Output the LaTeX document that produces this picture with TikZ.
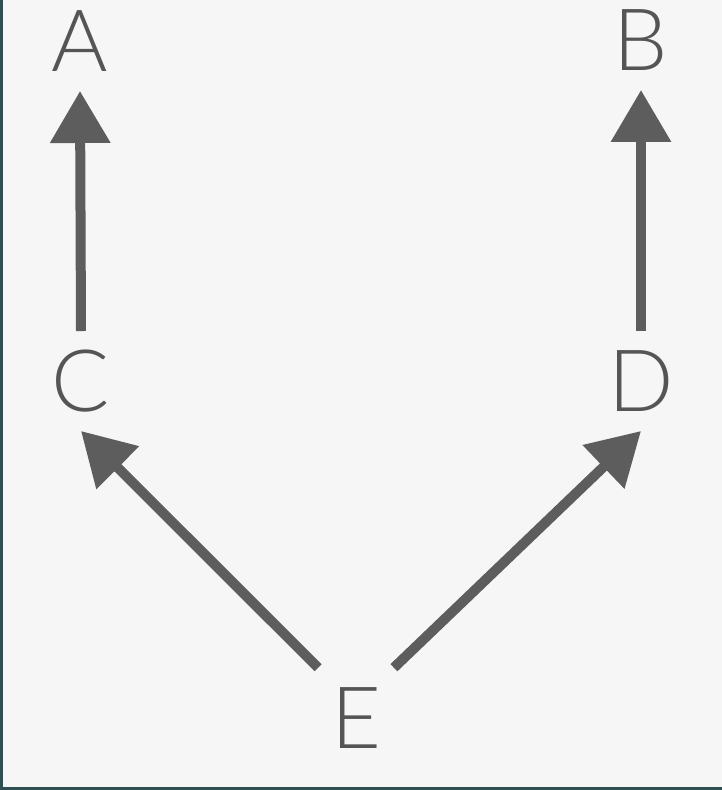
\documentclass[tikz,border=0pt]{standalone}
\usepackage{fontspec}
\setmainfont{Lato Light}
\usetikzlibrary{arrows.meta}
\definecolor{paper}{HTML}{F6F6F6}
\definecolor{ink}{HTML}{555555}
\definecolor{edge}{HTML}{2F4F53}

\begin{document}
\begin{tikzpicture}[x=0.02cm,y=-0.02cm,
  letter/.style={circle,inner sep=0pt,outer sep=0pt,minimum size=2cm,
    text=ink,font=\fontsize{49}{52}\selectfont},
  link/.style={-{Triangle[width=1.16cm,length=1.04cm]},line width=0.2cm,draw=ink!95}]
\useasboundingbox (0,0) rectangle (722,790);
\fill [paper] (0,0) rectangle (722,790);
\fill [edge] (0,0) rectangle (3,790); \fill [edge] (0,787) rectangle (722,790);

\node [letter] (A) at (80,41) {A}; \node [letter] (B) at (641,40) {B};
\node [letter] (C) at (81,381) {C}; \node [letter] (D) at (641,381) {D};
\node [letter,minimum size=2.52cm] (E) at (356,718) {E};

\draw [link] (C.north) -- (A.south);
\draw [link] (D.north) -- (B.south);
\draw [link] (E.127) -- (C.south);
\draw [link] (E.53) -- (D.south);

\end{tikzpicture}
\end{document}
